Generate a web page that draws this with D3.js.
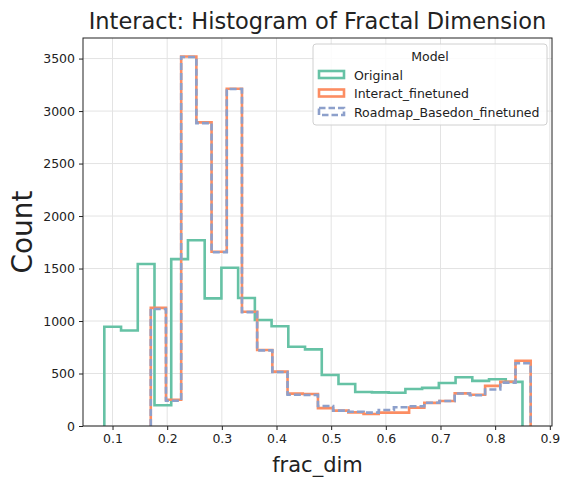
<!DOCTYPE html>
<html>
<head>
<meta charset="utf-8">
<script src="https://cdn.jsdelivr.net/npm/d3@7"></script>
<style>
  body { margin: 0; background: #fff; }
  text { font-family: "DejaVu Sans", sans-serif; fill: #222; }
</style>
</head>
<body>
<div id="chart"></div>
<script>
// ---------------------------------------------------
// DATA — step histograms of fractal dimension
// ---------------------------------------------------
const models = ["Original", "Interact_finetuned", "Roadmap_Basedon_finetuned"];

// bin ranges (25 equal-width bins each)
const originalRange = [0.085, 0.85];
const finetunedRange = [0.17, 0.865];
const binCount = 25;

const originalCounts = [946, 910, 1543, 198, 1590, 1770, 1216, 1508, 1220, 1010,
  950, 755, 730, 486, 400, 324, 320, 317, 352, 363, 410, 464, 430, 446, 420];
const interactCounts = [1125, 250, 3520, 2892, 1660, 3213, 1089, 724, 518, 308,
  305, 170, 146, 130, 114, 127, 127, 175, 220, 238, 311, 297, 382, 421, 622];
const roadmapCounts = [1115, 240, 3515, 2885, 1655, 3210, 1085, 720, 515, 298,
  295, 190, 146, 136, 127, 152, 178, 188, 222, 238, 309, 293, 348, 413, 598];

const xTicks = [0.1, 0.2, 0.3, 0.4, 0.5, 0.6, 0.7, 0.8, 0.9];
const yTicks = [0, 500, 1000, 1500, 2000, 2500, 3000, 3500];

// ---------------------------------------------------
// DIMENSIONS
// ---------------------------------------------------
const width = 565;
const height = 477;
const margin = { top: 38, right: 13, bottom: 51, left: 83 };
const innerWidth = width - margin.left - margin.right;
const innerHeight = height - margin.top - margin.bottom;

const svg = d3.select("#chart")
  .append("svg")
  .attr("width", width)
  .attr("height", height);

const g = svg.append("g")
  .attr("transform", `translate(${margin.left},${margin.top})`);

// bins → edges
const makeEdges = ([lo, hi]) =>
  d3.range(binCount + 1).map(i => lo + (hi - lo) * i / binCount);

const series = [
  { name: models[0], edges: makeEdges(originalRange), counts: originalCounts, color: "#66c2a5", dash: null },
  { name: models[1], edges: makeEdges(finetunedRange), counts: interactCounts, color: "#fc8d62", dash: null },
  { name: models[2], edges: makeEdges(finetunedRange), counts: roadmapCounts, color: "#8da0cb", dash: "7,3" }
];

// ---------------------------------------------------
// SCALES (matplotlib-style 5% padding)
// ---------------------------------------------------
const xMin = d3.min(series, s => s.edges[0]);
const xMax = d3.max(series, s => s.edges[s.edges.length - 1]);
const xPad = (xMax - xMin) * 0.05;
const yMax = d3.max(series, s => d3.max(s.counts)) * 1.05;

const x = d3.scaleLinear().domain([xMin - xPad, xMax + xPad]).range([0, innerWidth]);
const y = d3.scaleLinear().domain([0, yMax]).range([innerHeight, 0]);

// ---------------------------------------------------
// GRID
// ---------------------------------------------------
g.append("g")
  .selectAll("line")
  .data(xTicks)
  .join("line")
  .attr("x1", d => x(d)).attr("x2", d => x(d))
  .attr("y1", 0).attr("y2", innerHeight)
  .attr("stroke", "#e3e3e3").attr("stroke-width", 1);

g.append("g")
  .selectAll("line")
  .data(yTicks)
  .join("line")
  .attr("x1", 0).attr("x2", innerWidth)
  .attr("y1", d => y(d)).attr("y2", d => y(d))
  .attr("stroke", "#e3e3e3").attr("stroke-width", 1);

// ---------------------------------------------------
// STEP LINES
// ---------------------------------------------------
const line = d3.line().x(d => x(d[0])).y(d => y(d[1]));

const stepPoints = s => {
  const pts = [[s.edges[0], 0]];
  s.counts.forEach((c, i) => {
    pts.push([s.edges[i], c]);
    pts.push([s.edges[i + 1], c]);
  });
  pts.push([s.edges[s.edges.length - 1], 0]);
  return pts;
};

g.selectAll(".hist")
  .data(series)
  .join("path")
  .attr("class", "hist")
  .attr("fill", "none")
  .attr("stroke", d => d.color)
  .attr("stroke-width", 2.6)
  .attr("stroke-dasharray", d => d.dash)
  .attr("d", d => line(stepPoints(d)));

// ---------------------------------------------------
// AXES + FRAME
// ---------------------------------------------------
const xAxis = g.append("g")
  .attr("transform", `translate(0,${innerHeight})`)
  .call(d3.axisBottom(x).tickValues(xTicks).tickFormat(d3.format(".1f")).tickSizeOuter(0).tickSize(4).tickPadding(4));

const yAxis = g.append("g")
  .call(d3.axisLeft(y).tickValues(yTicks).tickFormat(d3.format("d")).tickSizeOuter(0).tickSize(4).tickPadding(4));

[xAxis, yAxis].forEach(a => {
  a.select(".domain").remove();
  a.selectAll("line").attr("stroke", "#222").attr("stroke-width", 1);
  a.selectAll("text").style("font-size", "12.5px").style("font-family", "DejaVu Sans").attr("fill", "#222");
});

g.append("rect")
  .attr("width", innerWidth).attr("height", innerHeight)
  .attr("fill", "none").attr("stroke", "#222").attr("stroke-width", 1);

// ---------------------------------------------------
// LABELS
// ---------------------------------------------------
svg.append("text")
  .attr("x", margin.left + innerWidth / 2)
  .attr("y", 29)
  .attr("text-anchor", "middle")
  .style("font-size", "22.5px")
  .text("Interact: Histogram of Fractal Dimension");

svg.append("text")
  .attr("x", margin.left + innerWidth / 2)
  .attr("y", 472)
  .attr("text-anchor", "middle")
  .style("font-size", "21px")
  .text("frac_dim");

svg.append("text")
  .attr("transform", `translate(32,${margin.top + innerHeight / 2}) rotate(-90)`)
  .attr("text-anchor", "middle")
  .style("font-size", "28px")
  .text("Count");

// ---------------------------------------------------
// LEGEND
// ---------------------------------------------------
const legend = svg.append("g").attr("transform", "translate(313,44)");

legend.append("rect")
  .attr("width", 234).attr("height", 81)
  .attr("rx", 3)
  .attr("fill", "#fff").attr("fill-opacity", 0.85)
  .attr("stroke", "#d0d0d0");

legend.append("text")
  .attr("x", 117).attr("y", 17)
  .attr("text-anchor", "middle")
  .style("font-size", "12.5px")
  .text("Model");

const item = legend.selectAll(".legend-item")
  .data(series)
  .join("g")
  .attr("class", "legend-item")
  .attr("transform", (d, i) => `translate(6,${27 + i * 18.5})`);

item.append("rect")
  .attr("width", 25).attr("height", 7)
  .attr("fill", "none")
  .attr("stroke", d => d.color)
  .attr("stroke-width", 2.6)
  .attr("stroke-dasharray", d => d.dash ? "6.5,3" : null);

item.append("text")
  .attr("x", 35).attr("y", 8.5)
  .style("font-size", "12.5px")
  .text(d => d.name);
</script>
</body>
</html>
